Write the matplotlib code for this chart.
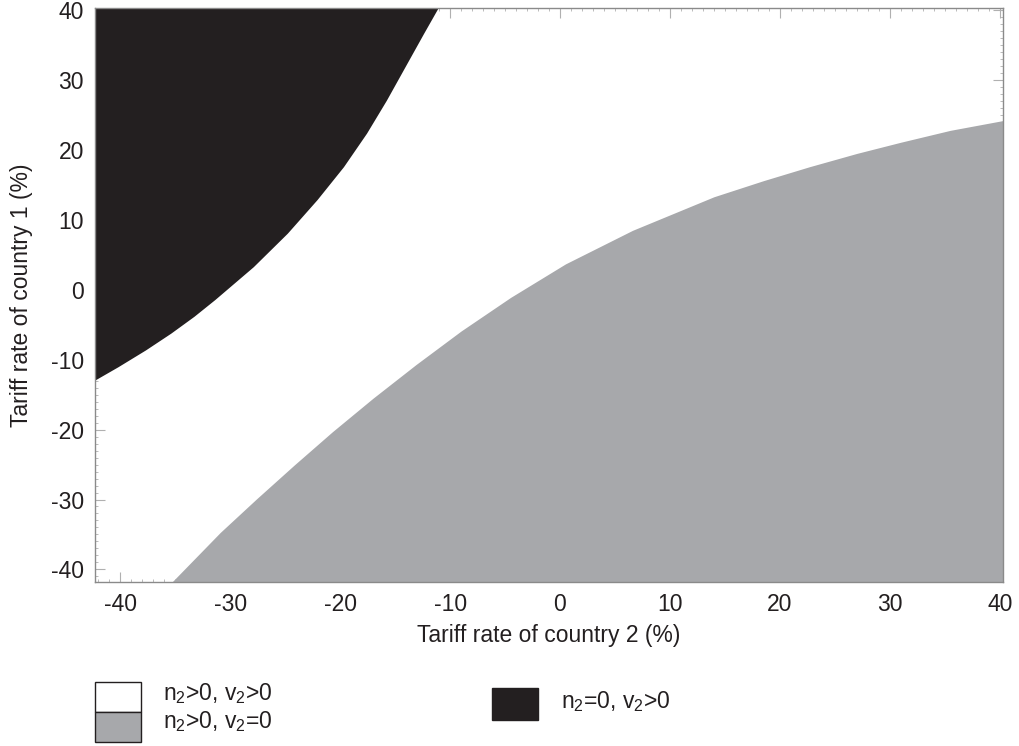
import matplotlib
matplotlib.use("Agg")
import matplotlib.pyplot as plt
from matplotlib.patches import Rectangle
from matplotlib.ticker import MultipleLocator

plt.rcParams['font.family'] = ['Liberation Sans', 'DejaVu Sans']
plt.rcParams['mathtext.fontset'] = 'custom'
plt.rcParams['mathtext.rm'] = 'Liberation Sans'
plt.rcParams['mathtext.default'] = 'regular'
plt.rcParams['axes.unicode_minus'] = False

# axis ranges (tariff rates, %)
x_lim = (-42.3, 40.3)
y_lim = (-41.8, 40.3)

# boundary of the n2=0, v2>0 region (upper left), x as a function of y
black_y = [-12.9, -11.0, -8.6, -6.2, -3.8, -1.4, 3.3, 8.1, 12.9, 17.6, 22.4, 27.1, 31.9, 36.7, 40.3]
black_x = [-42.3, -40.2, -37.7, -35.4, -33.3, -31.4, -27.9, -24.8, -22.1, -19.7, -17.6, -15.8, -14.1, -12.4, -11.1]

# boundary of the n2>0, v2=0 region (lower right), x as a function of y
gray_y = [-41.8, -34.7, -29.9, -25.1, -20.3, -15.5, -10.7, -5.9, -1.1, 3.7, 8.5, 13.3, 15.6, 17.6, 19.5, 21.1, 22.8, 24.2]
gray_x = [-35.3, -30.9, -27.6, -24.2, -20.7, -17.0, -13.1, -9.0, -4.5, 0.5, 6.6, 14.0, 18.5, 22.7, 27.0, 31.0, 35.5, 40.3]

labels = [r"n$_2$>0, v$_2$>0", r"n$_2$>0, v$_2$=0", r"n$_2$=0, v$_2$>0"]
colors = ["#ffffff", "#a7a8ab", "#231f20"]

fs = 16.5
fig = plt.figure(figsize=(10.2, 7.46), dpi=100)
ax = fig.add_axes([95 / 1020, 1 - 582 / 746, (1003 - 95) / 1020, (582 - 8) / 746])

ax.fill_betweenx(black_y, x_lim[0], black_x, color=colors[2], linewidth=0)
ax.fill_betweenx(gray_y, gray_x, x_lim[1], color=colors[1], linewidth=0)

ax.set_xlim(x_lim)
ax.set_ylim(y_lim)
ax.set_axisbelow(True)

ax.xaxis.set_major_locator(MultipleLocator(10))
ax.yaxis.set_major_locator(MultipleLocator(10))
ax.xaxis.set_minor_locator(MultipleLocator(1))
ax.yaxis.set_minor_locator(MultipleLocator(1))
ax.tick_params(which='both', direction='in', top=True, right=True, color='#b0b0b0',
               labelsize=fs, labelcolor='#231f20')
ax.tick_params(which='major', length=7, width=0.8, pad=8)
ax.tick_params(which='minor', length=2.5, width=0.6)
for s in ax.spines.values():
    s.set_color('#8a8a8a')
    s.set_linewidth(1.0)

ax.set_xlabel("Tariff rate of country 2 (%)", fontsize=fs, color='#231f20')
ax.set_ylabel("Tariff rate of country 1 (%)", fontsize=fs, color='#231f20')
ax.xaxis.set_label_coords(0.5, -0.073)
ax.yaxis.set_label_coords(-0.068, 0.5)

# legend drawn below the axes
W, H = 1020, 746
def box(x0, y0, x1, y1, fc):
    fig.add_artist(Rectangle((x0 / W, 1 - y1 / H), (x1 - x0) / W, (y1 - y0) / H,
                             transform=fig.transFigure, facecolor=fc,
                             edgecolor='#231f20', linewidth=1.0))

box(95, 682, 141, 712, colors[0])
box(95, 712, 141, 742, colors[1])
box(492, 688, 538, 720, colors[2])

fig.text(163 / W, 1 - 700 / H, labels[0], fontsize=fs, color='#231f20', va='baseline')
fig.text(163 / W, 1 - 728 / H, labels[1], fontsize=fs, color='#231f20', va='baseline')
fig.text(561 / W, 1 - 708 / H, labels[2], fontsize=fs, color='#231f20', va='baseline')

fig.savefig("out.png", dpi=100)
